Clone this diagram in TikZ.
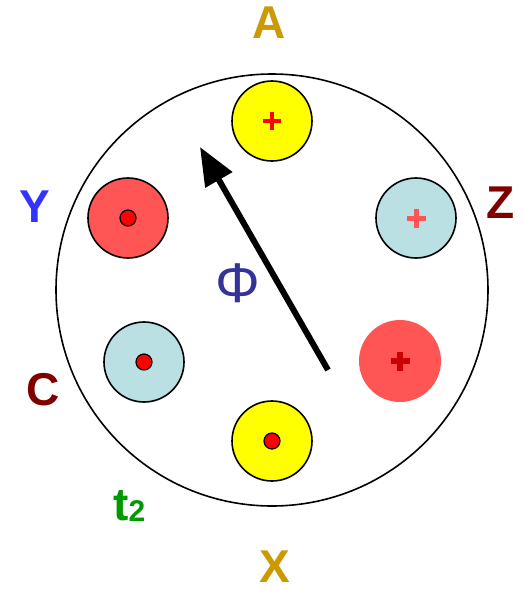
\documentclass[tikz,border=0pt]{standalone}
\usepackage{fontspec}
\setmainfont{Liberation Sans}
\usetikzlibrary{arrows.meta}
\definecolor{gold}{HTML}{CC9900}
\definecolor{ylab}{HTML}{3333FF}
\definecolor{dred}{HTML}{800000}
\definecolor{tgreen}{HTML}{009900}
\definecolor{phicol}{HTML}{333399}
\definecolor{lblue}{HTML}{BAE0E4}
\definecolor{lred}{HTML}{FF5555}
\definecolor{plusdark}{HTML}{CC0000}
\definecolor{yel}{HTML}{FFFF00}
\tikzset{
  slot/.style={circle, draw=black, line width=1.6pt, minimum size=80pt, inner sep=0pt},
  dot/.style={circle, draw=black, line width=1.2pt, fill=red, minimum size=16pt, inner sep=0pt},
  lab/.style={font=\fontsize{46}{46}\selectfont\bfseries, inner sep=0pt},
  plusbar/.style={line width=4.5pt, line cap=butt},
}
\begin{document}
\begin{tikzpicture}[x=1pt,y=-1pt]
\useasboundingbox[fill=white] (0,0) rectangle (523,590);
% stator
\node[circle, draw=black, line width=1.6pt, minimum size=432pt, inner sep=0pt] (stator) at (272,290) {};
% slots
\node[slot, fill=yel] (sA) at (272,121) {};
\node[slot, fill=lblue] (sZ) at (416,218) {};
\node[circle, fill=lred, minimum size=82pt, inner sep=0pt] (sCp) at (400,361) {};
\node[slot, fill=lred] (sY) at (128,218) {};
\node[slot, fill=lblue] (sC) at (144,362) {};
\node[slot, fill=yel] (sX) at (272,441) {};
% dots
\node[dot] (dY) at (sY) {};
\node[dot] (dC) at (sC) {};
\node[dot] (dX) at (sX) {};
% plus signs
\draw[plusbar, red] ([xshift=-9pt]sA.center) -- ([xshift=9pt]sA.center);
\draw[plusbar, red] ([yshift=-9pt]sA.center) -- ([yshift=9pt]sA.center);
\draw[plusbar, lred, line width=5pt] ([xshift=-9.5pt]sZ.center) -- ([xshift=9.5pt]sZ.center);
\draw[plusbar, lred, line width=5pt] ([yshift=-9.5pt]sZ.center) -- ([yshift=9.5pt]sZ.center);
\draw[plusbar, plusdark, line width=5.5pt] ([xshift=-9.5pt]sCp.center) -- ([xshift=9.5pt]sCp.center);
\draw[plusbar, plusdark, line width=5.5pt] ([yshift=-9.5pt]sCp.center) -- ([yshift=9.5pt]sCp.center);
% flux arrow
\coordinate (tail) at (328,370);
\coordinate (tip) at (200,147);
\draw[line width=6pt, -{Triangle[length=38pt,width=30pt]}] (tail) -- (tip);
\node[font=\fontsize{56}{56}\selectfont, text=phicol, inner sep=0pt] (phi) at (238,283) {Φ};
% labels
\node[lab, text=gold] (lA) at (269,23) {A};
\node[lab, text=gold] (lX) at (275,567) {X};
\node[lab, text=ylab] (lY) at (35,207) {Y};
\node[lab, text=dred] (lZ) at (501,203) {Z};
\node[lab, text=dred] (lC) at (43,390) {C};
\node[inner sep=0pt, anchor=base west, text=tgreen, font=\bfseries] (t2) at (113,520)
  {{\fontsize{46}{46}\selectfont t}\raisebox{-1pt}{\fontsize{30}{30}\selectfont 2}};
\end{tikzpicture}
\end{document}
